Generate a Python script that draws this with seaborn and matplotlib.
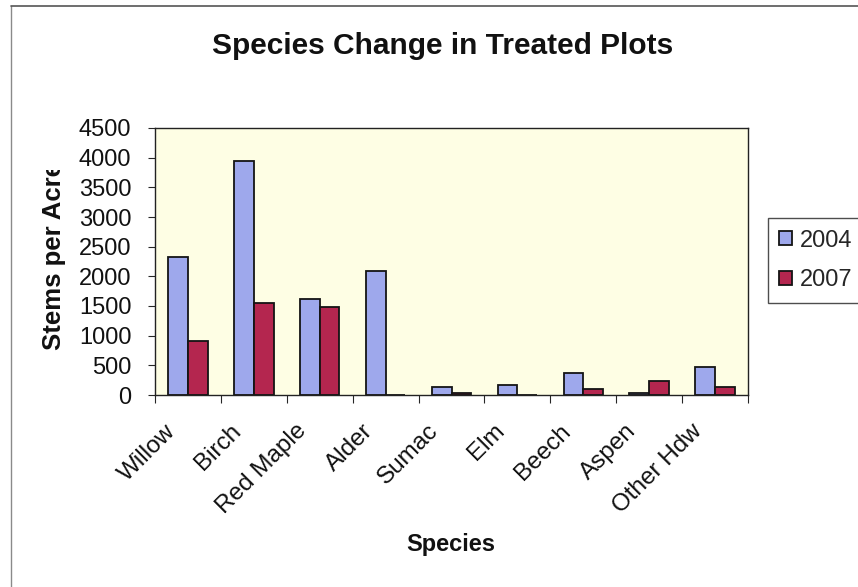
import matplotlib
matplotlib.use("Agg")
import matplotlib.pyplot as plt
from matplotlib.lines import Line2D
from matplotlib.transforms import ScaledTranslation
import seaborn as sns
import pandas as pd
import numpy as np

species = ["Willow", "Birch", "Red Maple", "Alder", "Sumac", "Elm", "Beech", "Aspen", "Other Hdw"]
stems_2004 = [2330, 3950, 1620, 2090, 130, 170, 370, 40, 470]
stems_2007 = [910, 1556, 1490, 0, 35, 0, 100, 240, 135]
years = ["2004", "2007"]
yticks = [0, 500, 1000, 1500, 2000, 2500, 3000, 3500, 4000, 4500]

df = pd.DataFrame({
    "Species": species * 2,
    "Year": [years[0]] * len(species) + [years[1]] * len(species),
    "Stems": stems_2004 + stems_2007,
})

sns.set_style("white")
plt.rcParams["font.family"] = ["Liberation Sans", "DejaVu Sans"]

W, H = 858, 587
fig = plt.figure(figsize=(W / 100, H / 100), dpi=100)
fig.patch.set_facecolor("white")

# chart-area border (left and top edges; the rest runs past the canvas)
fig.add_artist(Line2D([11 / W, 11 / W], [0, 1 - 6 / H], transform=fig.transFigure,
                      color="#8a8a8a", linewidth=1.0))
fig.add_artist(Line2D([11 / W, 1], [1 - 6 / H, 1 - 6 / H], transform=fig.transFigure,
                      color="#555555", linewidth=1.2))

ax = fig.add_axes([155 / W, 1 - 395 / H, (748 - 155) / W, (395 - 128) / H])
ax.set_facecolor("#fefee4")

palette = {"2004": "#9ea8ec", "2007": "#b4264f"}
sns.barplot(data=df, x="Species", y="Stems", hue="Year", order=species, hue_order=years,
            palette=palette, width=0.6, gap=0, edgecolor="#141414", linewidth=1.3,
            saturation=1, ax=ax, legend=True)

ax.set_xlim(-0.5, len(species) - 0.5)
ax.set_ylim(0, 4500)
ax.set_yticks(yticks)
ax.set_yticklabels([str(v) for v in yticks], fontsize=17, color="#111111")
ax.tick_params(axis="y", which="major", length=5, width=0.8, direction="out", left=True, pad=12)

ax.set_xticks(range(len(species)))
ax.set_xticklabels(species, rotation=45, ha="right", va="top", rotation_mode="anchor",
                   fontsize=17.5, color="#111111")
ax.tick_params(axis="x", which="major", length=0, pad=18)
shift = ScaledTranslation(-0.24, 0, fig.dpi_scale_trans)
for lbl in ax.get_xticklabels():
    lbl.set_transform(lbl.get_transform() + shift)
ax.set_xticks(np.arange(-0.5, len(species)), minor=True)
ax.tick_params(axis="x", which="minor", length=6, width=0.8, direction="out", bottom=True)

for side in ["top", "right", "left", "bottom"]:
    ax.spines[side].set_visible(True)
    ax.spines[side].set_color("#222222")
    ax.spines[side].set_linewidth(1.0)

ax.set_xlabel("")
ax.set_ylabel("")
fig.text(451 / W, 1 - 545 / H, "Species", ha="center", va="center",
         fontsize=17, fontweight="bold", color="#111111")

# y-axis title lives in its own frameless axes so it is cut off at the top edge
lab_ax = fig.add_axes([12 / W, 1 - 420 / H, 120 / W, (420 - 170) / H])
lab_ax.set_axis_off()
lab_ax.set_xlim(0, 120)
lab_ax.set_ylim(420, 170)
lab_ax.text(54 - 12, 350, "Stems per Acre", ha="center", va="bottom", rotation=90,
            fontsize=18.5, fontweight="bold", color="#111111", clip_on=True)

fig.text(443 / W, 1 - 46 / H, "Species Change in Treated Plots", ha="center", va="center",
         fontsize=21.5, fontweight="bold", color="#111111")

handles, labels = ax.get_legend_handles_labels()
ax.get_legend().remove()
leg = fig.legend(handles, labels, loc="upper left",
                 bbox_to_anchor=(768 / W, 1 - 219 / H, 130 / W, 0.001), mode="expand",
                 frameon=True, fancybox=False, fontsize=17, handlelength=0.55,
                 handleheight=0.55, handletextpad=0.34, borderpad=0.47, labelspacing=0.76,
                 borderaxespad=0)
leg.get_frame().set_edgecolor("#222222")
leg.get_frame().set_linewidth(1.0)

fig.savefig("out.png", dpi=100)
